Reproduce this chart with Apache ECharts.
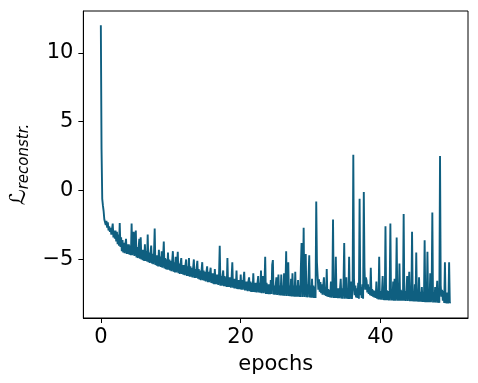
<!DOCTYPE html>
<html>
<head>
<meta charset="utf-8">
<script src="https://cdn.jsdelivr.net/npm/echarts@6/dist/echarts.min.js"></script>
<style>
html,body{margin:0;padding:0;background:#fff;}
#chart{width:478px;height:383px;}
</style>
</head>
<body>
<div id="chart"></div>
<script>
// Sampling step of the loss curve (epochs per sample)
const epochStep = 0.1;
// Reconstruction loss, 10 samples per epoch
const loss = [
  12.0, 3.0, -0.6, -1.1, -1.5, -2.1, -2.0, -2.5, -2.2, -2.7,
  -2.3, -2.9, -2.6, -3.0, -2.7, -3.2, -2.8, -2.4, -3.4, -2.9,
  -3.5, -2.9, -3.7, -3.0, -3.9, -3.2, -4.0, -2.35, -4.1, -3.4,
  -4.4, -3.6, -4.5, -3.8, -4.55, -3.9, -3.5, -4.6, -3.9, -4.6,
  -3.9, -4.65, -4.0, -4.7, -2.4, -4.7, -3.9, -3.0, -4.75, -4.0,
  -2.9, -4.85, -4.1, -4.9, -4.2, -3.5, -4.95, -3.4, -5.0, -4.3,
  -5.05, -4.3, -5.1, -3.9, -5.1, -4.4, -5.15, -3.2, -5.2, -4.5,
  -5.25, -4.5, -4.0, -5.3, -4.6, -5.35, -4.6, -2.75, -5.4, -4.7,
  -5.45, -4.7, -5.5, -4.3, -5.5, -4.8, -5.55, -4.4, -5.6, -4.9,
  -3.7, -5.65, -4.9, -5.7, -5.0, -5.75, -4.5, -5.75, -5.0, -5.8,
  -5.1, -5.85, -5.1, -4.4, -5.9, -5.2, -5.95, -4.8, -5.95, -5.3,
  -4.45, -6.0, -5.3, -6.05, -5.3, -4.9, -6.05, -5.4, -6.1, -5.4,
  -6.15, -5.4, -5.0, -6.2, -5.5, -6.2, -4.9, -6.25, -5.5, -6.25,
  -5.6, -6.3, -5.6, -5.0, -6.35, -5.7, -6.35, -5.6, -5.1, -6.4,
  -5.7, -6.45, -5.8, -6.5, -5.8, -5.2, -6.5, -5.8, -6.55, -5.9,
  -6.6, -5.9, -5.5, -6.65, -5.9, -6.65, -6.0, -5.6, -6.7, -6.0,
  -6.75, -6.0, -6.8, -5.7, -6.8, -6.1, -6.8, -6.1, -6.85, -6.1,
  -4.0, -6.9, -6.2, -6.9, -6.2, -5.8, -6.95, -6.2, -6.95, -6.3,
  -7.0, -4.9, -7.0, -6.3, -7.0, -6.3, -7.05, -6.3, -5.2, -7.05,
  -6.4, -7.1, -6.4, -7.1, -5.8, -7.15, -6.5, -7.15, -6.5, -7.15,
  -6.1, -7.2, -6.5, -7.2, -6.5, -5.9, -7.25, -6.6, -7.25, -6.6,
  -7.3, -6.6, -6.3, -7.3, -6.6, -7.35, -6.7, -7.35, -6.0, -7.35,
  -6.7, -7.38, -6.7, -7.4, -6.7, -6.2, -7.4, -6.7, -7.42, -5.8,
  -7.45, -6.8, -6.2, -7.45, -6.8, -4.8, -7.5, -6.7, -7.5, -6.8,
  -7.52, -6.8, -7.52, -6.5, -7.5, -5.4, -5.05, -7.55, -6.9, -7.56,
  -6.9, -6.3, -7.58, -6.9, -6.1, -7.6, -6.9, -7.62, -6.1, -7.62,
  -6.9, -7.63, -6.0, -7.64, -6.9, -4.4, -7.65, -6.9, -5.2, -7.66,
  -6.9, -7.67, -6.4, -7.68, -6.0, -7.68, -6.9, -7.7, -5.9, -7.7,
  -6.9, -7.7, -6.5, -7.7, -6.9, -7.72, -5.6, -3.8, -7.72, -6.8,
  -2.7, -7.73, -6.9, -4.6, -7.74, -6.8, -7.75, -6.2, -4.7, -7.76,
  -6.9, -7.77, -6.4, -7.78, -6.9, -7.8, -7.0, -7.8, -0.8, -5.2,
  -6.2, -7.2, -6.45, -7.35, -6.65, -7.45, -6.8, -7.55, -6.9, -6.3,
  -7.6, -7.05, -7.65, -5.7, -7.7, -7.15, -7.72, -7.2, -7.75, -6.6,
  -7.78, -7.2, -2.1, -7.8, -7.2, -7.8, -4.8, -7.8, -7.1, -7.82,
  -7.1, -7.82, -7.1, -6.4, -7.84, -7.1, -7.85, -6.7, -3.8, -7.85,
  -7.1, -6.3, -7.85, -7.1, -7.86, -4.8, -7.86, -7.2, -6.6, -7.87,
  -7.2, 2.6, -6.4, -7.6, -6.9, -7.75, -7.1, -7.8, -6.7, -7.85,
  -0.6, -7.6, -7.0, -7.8, -6.8, -7.85, -0.1, -5.6, -7.2, -6.3,
  -6.55, -7.4, -6.8, -7.5, -7.0, -7.6, -5.6, -7.65, -7.15, -7.7,
  -7.25, -7.75, -7.3, -7.8, -6.6, -7.85, -7.35, -7.9, -4.8, -7.9,
  -7.3, -7.92, -7.3, -6.2, -7.95, -7.3, -7.95, -2.6, -7.95, -7.25,
  -7.95, -7.3, -7.97, -7.3, -2.4, -7.98, -7.3, -7.98, -6.6, -8.0,
  -6.4, -8.0, -7.3, -3.4, -8.0, -7.3, -8.0, -5.3, -8.0, -7.2,
  -8.0, -7.3, -8.0, -1.7, -8.0, -7.3, -8.02, -7.3, -6.2, -8.02,
  -7.3, -5.9, -8.03, -7.35, -8.03, -3.0, -8.04, -7.3, -8.05, -6.8,
  -8.05, -4.5, -8.05, -7.3, -8.06, -6.3, -8.07, -7.35, -8.07, -7.0,
  -8.08, -7.35, -8.08, -3.6, -8.1, -7.35, -8.1, -4.45, -8.1, -7.3,
  -8.1, -6.0, -8.1, -7.4, -1.6, -8.12, -7.4, -8.12, -7.0, -8.13,
  -7.4, -6.55, -8.14, -7.4, -8.15, 2.5, -6.9, -7.7, -7.2, -8.0,
  -7.3, -8.15, -5.2, -8.18, -7.4, -8.2, -7.4, -8.2, -5.2, -8.15,
  -8.1
];
const xTicks = [0, 20, 40];
const yTicks = [-5, 0, 5, 10];
const xRange = [-2.5, 52.5];
const yRange = [-9.25, 13.03];

const points = loss.map((v, i) => [+(i * epochStep).toFixed(2), v]);
const font = 'DejaVu Sans';
const minus = v => String(v).replace('-', '\u2212');

const chart = echarts.init(document.getElementById('chart'), null, {renderer: 'canvas'});
chart.setOption({
  animation: false,
  backgroundColor: '#ffffff',
  grid: {left: 81, right: 10, top: 11, bottom: 65, show: true, borderColor: '#000', borderWidth: 1, backgroundColor: 'transparent'},
  xAxis: {
    type: 'value', min: xRange[0], max: xRange[1],
    name: 'epochs', nameLocation: 'middle', nameGap: 36,
    nameTextStyle: {fontFamily: font, fontSize: 21, color: '#000'},
    axisLine: {show: true, onZero: false, lineStyle: {color: '#000', width: 1}},
    axisTick: {show: true, inside: false, length: 5, lineStyle: {color: '#000', width: 1}, customValues: xTicks},
    axisLabel: {show: true, margin: 9, fontFamily: font, fontSize: 21, color: '#000', customValues: xTicks, formatter: minus},
    splitLine: {show: false}
  },
  yAxis: {
    type: 'value', min: yRange[0], max: yRange[1],
    name: '{l|ℒ}{s|reconstr.}', nameLocation: 'middle', nameGap: 51, nameRotate: 90,
    nameTextStyle: {
      fontFamily: font, color: '#000',
      rich: {
        l: {fontFamily: font, fontSize: 22, color: '#000', verticalAlign: 'middle'},
        s: {fontFamily: font, fontSize: 15, fontStyle: 'italic', color: '#000', verticalAlign: 'middle', padding: [10, 0, 0, 0]}
      }
    },
    axisLine: {show: true, onZero: false, lineStyle: {color: '#000', width: 1}},
    axisTick: {show: true, inside: false, length: 5, lineStyle: {color: '#000', width: 1}, customValues: yTicks},
    axisLabel: {show: true, margin: 10, fontFamily: font, fontSize: 21, color: '#000', customValues: yTicks, formatter: minus},
    splitLine: {show: false}
  },
  series: [{
    type: 'line', data: points, showSymbol: false, symbol: 'none',
    lineStyle: {color: '#0f5f80', width: 1.9},
    clip: true
  }]
});
</script>
</body>
</html>
